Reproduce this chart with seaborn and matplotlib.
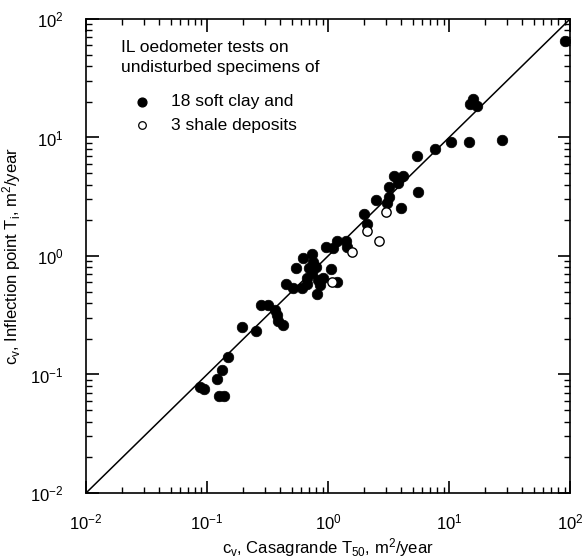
import numpy as np
import pandas as pd
import seaborn as sns
import matplotlib.pyplot as plt
from matplotlib.ticker import NullFormatter, FixedLocator

# soft clay (filled) - cv from Casagrande T50 vs cv from inflection point Ti
clay_t50 = [91, 15.8, 14.9, 17.0, 10.4, 14.6, 27.4, 7.66, 5.44, 3.51, 4.17, 3.79,
            3.19, 5.54, 2.49, 3.19, 3.07, 4.01, 1.99, 2.10, 1.19, 1.41, 1.44, 0.96,
            1.10, 0.738, 0.621, 0.544, 0.697, 0.796, 0.738, 1.06, 0.670, 0.909,
            0.859, 1.19, 0.450, 0.514, 0.610, 0.670, 0.811, 0.826, 0.752, 0.279,
            0.319, 0.365, 0.379, 0.386, 0.425, 0.254, 0.195, 0.149, 0.133, 0.121,
            0.0875, 0.0944, 0.126, 0.138]
clay_ti = [65.2, 21.1, 19.2, 18.4, 9.2, 9.2, 9.5, 8.0, 6.98, 4.73, 4.73, 4.13,
           3.82, 3.47, 2.97, 3.15, 2.80, 2.54, 2.26, 1.86, 1.34, 1.34, 1.19, 1.19,
           1.17, 1.04, 0.962, 0.792, 0.792, 0.808, 0.719, 0.777, 0.652, 0.652,
           0.569, 0.604, 0.581, 0.537, 0.537, 0.581, 0.478, 0.627, 0.890, 0.386,
           0.386, 0.350, 0.318, 0.283, 0.262, 0.233, 0.252, 0.141, 0.109, 0.0917,
           0.0785, 0.0755, 0.0659, 0.0659]

# shale (open)
shale_t50 = [3.01, 2.10, 2.64, 1.58, 1.08]
shale_ti = [2.35, 1.63, 1.34, 1.08, 0.604]

line_vals = [0.01, 100]
decades = [0.01, 0.1, 1, 10, 100]
decade_labels = [r"$10^{-2}$", r"$10^{-1}$", r"$10^{0}$", r"$10^{1}$", r"$10^{2}$"]
minor_vals = [m * d for d in decades[:-1] for m in range(2, 10)]

clay = pd.DataFrame({"t50": clay_t50, "ti": clay_ti})
shale = pd.DataFrame({"t50": shale_t50, "ti": shale_ti})
line = pd.DataFrame({"x": line_vals, "y": line_vals})

plt.rcParams["font.family"] = ["Liberation Sans", "DejaVu Sans"]
plt.rcParams["mathtext.default"] = "regular"

fig = plt.figure(figsize=(5.86, 5.58), dpi=100)
ax = fig.add_axes([0.1468, 0.1165, 0.826, 0.8495])

sns.lineplot(data=line, x="x", y="y", color="black", lw=1.1, ax=ax)
sns.scatterplot(data=clay, x="t50", y="ti", color="black", s=58,
                edgecolor="black", linewidth=0.5, ax=ax, zorder=3)
sns.scatterplot(data=shale, x="t50", y="ti", facecolor="white", s=45,
                edgecolor="black", linewidth=1.0, ax=ax, zorder=4)

ax.set_xscale("log")
ax.set_yscale("log")
ax.set_xlim(0.01, 100)
ax.set_ylim(0.01, 100)

for axis in (ax.xaxis, ax.yaxis):
    axis.set_major_locator(FixedLocator(decades))
    axis.set_minor_locator(FixedLocator(minor_vals))
    axis.set_minor_formatter(NullFormatter())
ax.set_xticklabels(decade_labels)
ax.set_yticklabels(decade_labels)
ax.tick_params(which="both", direction="in", top=True, right=True,
               labelsize=12, colors="black")
ax.tick_params(which="major", length=9, width=1.2)
ax.tick_params(which="minor", length=4.5, width=1.0)
ax.tick_params(axis="x", which="major", pad=14)
ax.tick_params(axis="y", which="major", pad=16)

for sp in ax.spines.values():
    sp.set_linewidth(1.2)
    sp.set_color("black")

ax.set_xlabel(r"c$_v$, Casagrande T$_{50}$, m$^2$/year", fontsize=12, labelpad=3)
ax.set_ylabel(r"c$_v$, Inflection point T$_i$, m$^2$/year", fontsize=12, labelpad=5)

ax.text(0.072, 0.955, "IL oedometer tests on\nundisturbed specimens of",
        transform=ax.transAxes, fontsize=12.5, va="top", linespacing=1.4)
ax.scatter([0.115], [0.825], transform=ax.transAxes, s=40, color="black")
ax.scatter([0.115], [0.776], transform=ax.transAxes, s=30, facecolor="white",
           edgecolor="black", linewidth=0.9)
ax.text(0.175, 0.825, "18 soft clay and", transform=ax.transAxes, fontsize=12.5,
        va="center")
ax.text(0.175, 0.776, "3 shale deposits", transform=ax.transAxes, fontsize=12.5,
        va="center")

fig.savefig("out.png", dpi=100)
